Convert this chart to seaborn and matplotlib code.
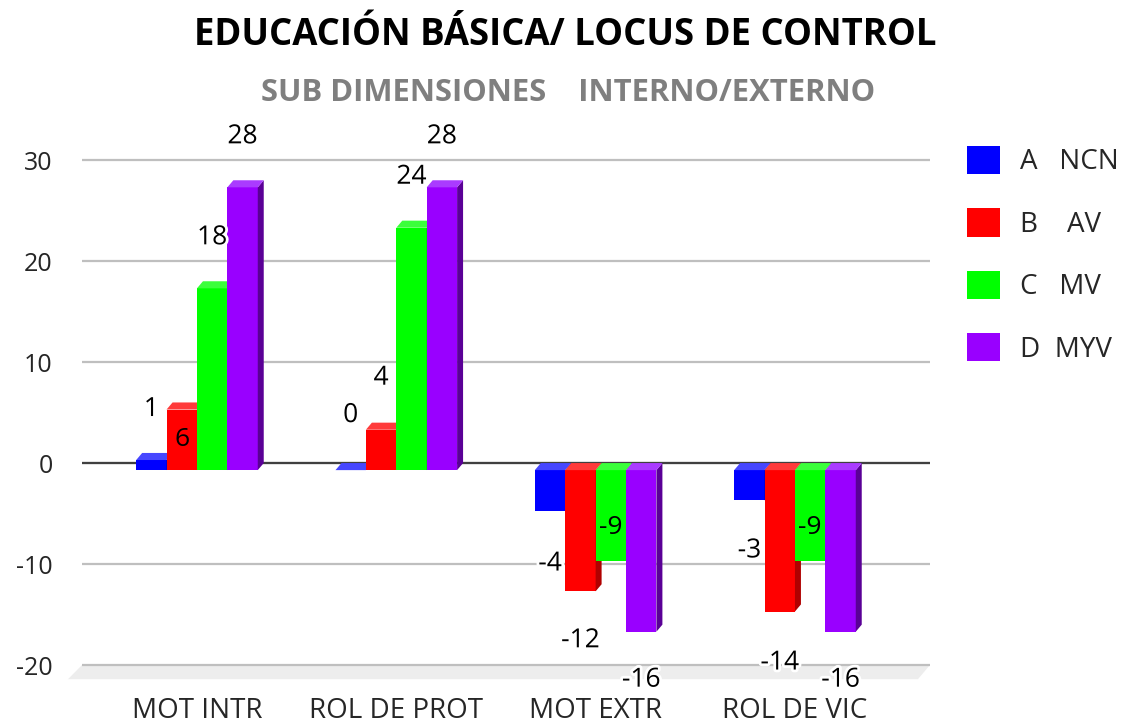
import numpy as np
import pandas as pd
import seaborn as sns
import matplotlib.pyplot as plt
from matplotlib.patches import Polygon, Patch
import matplotlib.patheffects as pe

# === Chart data ===
categories = ["MOT INTR", "ROL DE PROT", "MOT EXTR", "ROL DE VIC"]
groups = ["A   NCN", "B    AV", "C   MV", "D  MYV"]
vals_a = [1, 0, -4, -3]
vals_b = [6, 4, -12, -14]
vals_c = [18, 24, -9, -9]
vals_d = [28, 28, -16, -16]
y_ticks = [-20, -10, 0, 10, 20, 30]

# label offset from the bar end (data units), as Excel placed them
off_a = [4.3, 4.7, -6.0, -5.7]
off_b = [-3.7, 4.4, -5.6, -5.8]
off_c = [4.3, 4.3, 2.6, 2.6]
off_d = [4.3, 4.3, -5.5, -5.5]

front = ["#0000ff", "#ff0000", "#00ff00", "#9900ff"]
side = ["#0000a8", "#b00000", "#00b000", "#5a0096"]
top = ["#4747ff", "#ff3b3b", "#3bff3b", "#aa3bff"]

all_vals = [vals_a, vals_b, vals_c, vals_d]
all_offs = [off_a, off_b, off_c, off_d]

rows = []
for g, vals in zip(groups, all_vals):
    for c, v in zip(categories, vals):
        rows.append({"cat": c, "grp": g, "val": v})
df = pd.DataFrame(rows)

sns.set_style("white")
plt.rcParams["font.family"] = ["Open Sans", "DejaVu Sans"]
plt.rcParams["axes.unicode_minus"] = False

fig = plt.figure(figsize=(11.35, 7.27), dpi=100)
ax = fig.add_axes([0.0722, 0.0616, 0.7471, 0.7224])

sns.barplot(data=df, x="cat", y="val", hue="grp", order=categories,
            hue_order=groups, palette=front, width=0.61, saturation=1,
            errorbar=None, legend=False, ax=ax)

ax.set_xlim(-0.577, 3.677)
ax.set_ylim(-21.7, 30.3)

# fake 3D depth
dx, dy = 0.03, 0.7
bars = sorted(ax.patches, key=lambda p: p.get_x())
for k, p in enumerate(bars):
    ci, hi = k // 4, k % 4
    v = all_vals[hi][ci]
    off = all_offs[hi][ci]
    lo, up = min(0, v), max(0, v)
    x0 = p.get_x()
    x1 = x0 + p.get_width()
    p.set_y(lo - dy)
    p.set_height(up - lo)
    p.set_linewidth(0)
    p.set_zorder(3 + hi)
    ax.add_patch(Polygon([(x1, lo - dy), (x1, up - dy), (x1 + dx, up), (x1 + dx, lo)],
                         closed=True, facecolor=side[hi], lw=0, zorder=3 + hi))
    ax.add_patch(Polygon([(x0, up - dy), (x1, up - dy), (x1 + dx, up), (x0 + dx, up)],
                         closed=True, facecolor=top[hi], lw=0, zorder=3 + hi))
    # labels sitting on a bar get no white halo
    fx = [] if v * off < 0 else [pe.withStroke(linewidth=4, foreground="white")]
    ax.text((x0 + x1) / 2, v + off, str(v), ha="center", va="center",
            fontsize=19, color="black", zorder=20, clip_on=False, path_effects=fx)

# floor of the 3D box
xl, xr = ax.get_xlim()
ax.add_patch(Polygon([(xl, -20), (xr, -20), (xr - 0.06, -21.4), (xl - 0.07, -21.4)],
                     closed=True, facecolor="#ededed", lw=0, zorder=0, clip_on=False))

ax.set_yticks(y_ticks)
ax.yaxis.grid(True, color="#bfbfbf", lw=1.6, zorder=1)
ax.set_axisbelow(True)
ax.axhline(0, color="#404040", lw=1.6, zorder=2)
for s in ax.spines.values():
    s.set_visible(False)
ax.tick_params(axis="y", length=0, pad=21, labelsize=18)
ax.tick_params(axis="x", length=0, pad=11, labelsize=20)
ax.set_xlabel("")
ax.set_ylabel("")

fig.text(0.498, 0.952, "EDUCACIÓN BÁSICA/ LOCUS DE CONTROL", ha="center", va="center",
         fontsize=26.3, fontweight="bold", color="black")
fig.text(0.5005, 0.872, "SUB DIMENSIONES    INTERNO/EXTERNO", ha="center", va="center",
         fontsize=22.3, fontweight="bold", color="#7f7f7f")

handles = [Patch(facecolor=c, edgecolor="none") for c in front]
fig.legend(handles, groups, loc="upper left", bbox_to_anchor=(967 / 1135, 1 - 146 / 727),
           frameon=False, fontsize=20, handlelength=1.18, handleheight=1.18,
           handletextpad=0.72, labelspacing=1.15, borderpad=0, borderaxespad=0)

plt.savefig("out.png", dpi=100)
plt.close()
